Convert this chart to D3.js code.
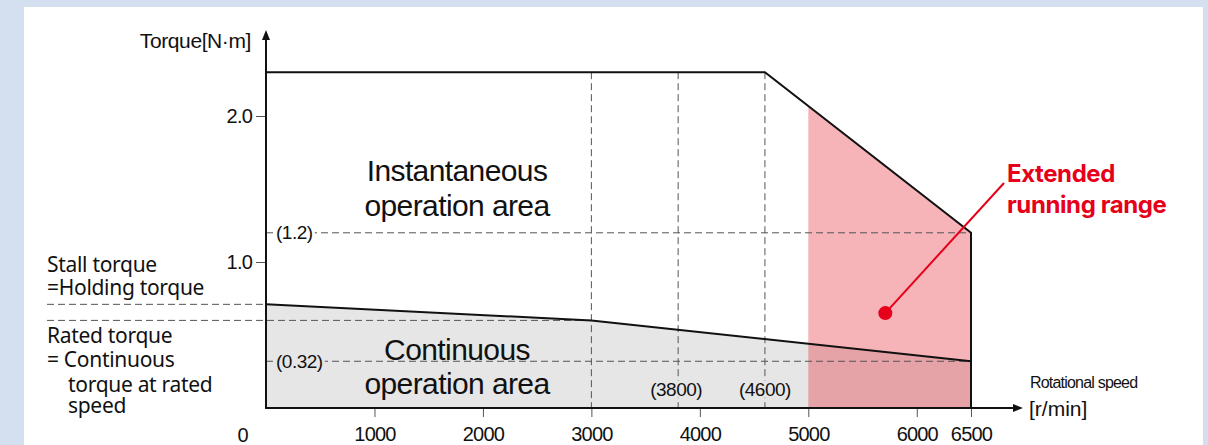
<!DOCTYPE html>
<html>
<head>
<meta charset="utf-8">
<script src="https://cdn.jsdelivr.net/npm/d3@7"></script>
<style>
  html, body { margin: 0; padding: 0; background: #d4dff0; }
  svg { display: block; }
  .grot { font-family: "Liberation Sans", Arial, sans-serif; fill: #111; }
  .myr  { font-family: "Noto Sans", "Open Sans", sans-serif; fill: #111; }
</style>
</head>
<body>
<svg id="chart" width="1208" height="445"></svg>
<script>
// Data
const xTicks = [1000, 2000, 3000, 4000, 5000, 6000, 6500];
const yTicks = [1.0, 2.0];
const peakCurve = [[0, 2.3], [4600, 2.3], [6500, 1.2], [6500, 0]];
const contCurve = [[0, 0.71], [3000, 0.6], [6500, 0.32]];
const extendedFrom = 5000;
const stallTorque = 0.71;
const ratedTorque = 0.6;
const ratedSpeed = 3000;
const refSpeeds = [3000, 3800, 4600];
const refTorques = [{ v: 1.2, label: '(1.2)' }, { v: 0.32, label: '(0.32)' }];
const markerPoint = [5710, 0.65];

const svg = d3.select('#chart');

// white panel
svg.append('rect').attr('x', 24).attr('y', 7).attr('width', 1179).attr('height', 450).attr('fill', '#fff');

const x = d3.scaleLinear().domain([0, 6500]).range([266, 971]);
const y = d3.scaleLinear().domain([0, 2]).range([408, 116]);

const g = svg.append('g');

// peak torque as a function of speed (for the pink area)
function peakAt(s) {
  const pts = peakCurve.slice(0, 3);
  for (let i = 0; i < pts.length - 1; i++) {
    const [s0, t0] = pts[i], [s1, t1] = pts[i + 1];
    if (s >= s0 && s <= s1) return t0 + (t1 - t0) * (s - s0) / (s1 - s0);
  }
  return pts[pts.length - 1][1];
}

// Continuous area (grey)
const area = d3.area().x(d => x(d[0])).y0(y(0)).y1(d => y(d[1]));
g.append('path').datum(contCurve).attr('d', area).attr('fill', '#e6e6e6');

// Extended running range (pink)
const extPts = [[extendedFrom, peakAt(extendedFrom)], ...peakCurve.slice(2, 3)];
g.append('path').datum(extPts).attr('d', area)
  .attr('fill', 'rgb(227,18,33)').attr('fill-opacity', 0.32);

// dashed reference lines
const dash = sel => sel.attr('stroke', '#555').attr('stroke-width', 1).attr('stroke-dasharray', '7,4').attr('fill', 'none');

refSpeeds.forEach(s => {
  g.append('line').attr('x1', x(s)).attr('x2', x(s)).attr('y1', y(2.3)).attr('y2', y(0)).call(dash);
});
refTorques.forEach(r => {
  g.append('line').attr('x1', x(0)).attr('x2', x(6500)).attr('y1', y(r.v)).attr('y2', y(r.v)).call(dash);
});
g.append('line').attr('x1', 47).attr('x2', x(0)).attr('y1', y(stallTorque)).attr('y2', y(stallTorque)).call(dash);
g.append('line').attr('x1', 47).attr('x2', x(ratedSpeed)).attr('y1', y(ratedTorque)).attr('y2', y(ratedTorque)).call(dash);

// curves
const line = d3.line().x(d => x(d[0])).y(d => y(d[1]));
g.append('path').datum(peakCurve).attr('d', line).attr('fill', 'none').attr('stroke', '#111').attr('stroke-width', 2);
g.append('path').datum(contCurve).attr('d', line).attr('fill', 'none').attr('stroke', '#111').attr('stroke-width', 2);

// reference labels with background
function refLabel(tx, ty, text, bg, anchor) {
  const t = g.append('text').attr('class', 'grot').attr('x', tx).attr('y', ty).attr('dy', '0.35em')
    .attr('text-anchor', anchor).attr('font-size', 19).attr('letter-spacing', -0.5).text(text);
  const b = t.node().getBBox();
  g.insert('rect', () => t.node()).attr('x', b.x - 2).attr('y', b.y + 2).attr('width', b.width + 4).attr('height', b.height - 4).attr('fill', bg);
}
refLabel(x(0) + 10, y(1.2), '(1.2)', '#fff', 'start');
refLabel(x(0) + 10, y(0.32), '(0.32)', '#e6e6e6', 'start');
refLabel(x(3800) - 2, 389, '(3800)', '#e6e6e6', 'middle');
refLabel(x(4600), 389, '(4600)', '#e6e6e6', 'middle');

// axes
const xAxis = d3.axisBottom(x).tickValues(xTicks).tickSize(9).tickPadding(10).tickFormat(d3.format('d'));
const xa = g.append('g').attr('transform', `translate(0,${y(0)})`).call(xAxis);
xa.select('.domain').remove();
xa.selectAll('.tick line').attr('stroke', '#555');
xa.selectAll('.tick text').attr('class', 'grot').attr('font-size', 20).attr('letter-spacing', -0.8).attr('fill', '#111');

const yAxis = d3.axisLeft(y).tickValues(yTicks).tickSize(10).tickPadding(4).tickFormat(d3.format('.1f'));
const ya = g.append('g').attr('transform', `translate(${x(0)},0)`).call(yAxis);
ya.select('.domain').remove();
ya.selectAll('.tick line').attr('stroke', '#555');
ya.selectAll('.tick text').attr('class', 'grot').attr('font-size', 20).attr('letter-spacing', -0.8).attr('fill', '#111');

// axis lines with arrows
g.append('line').attr('x1', x(0)).attr('x2', x(0)).attr('y1', y(0) + 1).attr('y2', 36).attr('stroke', '#111').attr('stroke-width', 2);
g.append('path').attr('d', `M${x(0)},30 L${x(0) - 4},40 L${x(0) + 4},40 Z`).attr('fill', '#111');
g.append('line').attr('x1', x(0) - 1).attr('x2', 1016).attr('y1', y(0)).attr('y2', y(0)).attr('stroke', '#111').attr('stroke-width', 2);
g.append('path').attr('d', `M1023,${y(0)} L1013,${y(0) - 4} L1013,${y(0) + 4} Z`).attr('fill', '#111');

// axis titles
g.append('text').attr('class', 'grot').attr('x', 251).attr('y', 48).attr('text-anchor', 'end')
  .attr('font-size', 21).attr('letter-spacing', -0.4).text('Torque[N·m]');
g.append('text').attr('class', 'grot').attr('x', x(0) - 23).attr('y', 442).attr('text-anchor', 'middle')
  .attr('font-size', 20).text('0');
g.append('text').attr('class', 'grot').attr('x', 1030).attr('y', 388).attr('font-size', 16).attr('letter-spacing', -0.8).text('Rotational speed');
g.append('text').attr('class', 'grot').attr('x', 1029).attr('y', 416).attr('font-size', 21).text('[r/min]');

// area labels
const big = (tx, ty, text) => g.append('text').attr('class', 'grot').attr('x', tx).attr('y', ty)
  .attr('text-anchor', 'middle').attr('font-size', 30).attr('letter-spacing', -0.6).text(text);
big(457, 181, 'Instantaneous');
big(457, 216, 'operation area');
big(457, 360, 'Continuous');
big(457, 394, 'operation area');

// left explanatory labels
const side = (tx, ty, text) => g.append('text').attr('class', 'myr').attr('x', tx).attr('y', ty)
  .attr('font-size', 21).attr('letter-spacing', -0.3).text(text);
side(47, 272, 'Stall torque');
side(47, 295, '=Holding torque');
side(47, 343, 'Rated torque');
side(47, 367, '= Continuous');
side(68, 392, 'torque at rated');
side(68, 413, 'speed');

// extended running range callout
g.append('line').attr('x1', x(markerPoint[0])).attr('y1', y(markerPoint[1])).attr('x2', 1004).attr('y2', 183)
  .attr('stroke', '#e60019').attr('stroke-width', 2);
g.append('circle').attr('cx', x(markerPoint[0])).attr('cy', y(markerPoint[1])).attr('r', 7).attr('fill', '#e60019');
g.append('text').attr('x', 1007).attr('y', 182).attr('font-family', 'Inter, "Liberation Sans", sans-serif')
  .attr('font-weight', 'bold').attr('font-size', 24).attr('fill', '#e60019').attr('letter-spacing', -0.4).text('Extended');
g.append('text').attr('x', 1007).attr('y', 213).attr('font-family', 'Inter, "Liberation Sans", sans-serif')
  .attr('font-weight', 'bold').attr('font-size', 24).attr('fill', '#e60019').attr('letter-spacing', -0.4).text('running range');
</script>
</body>
</html>
